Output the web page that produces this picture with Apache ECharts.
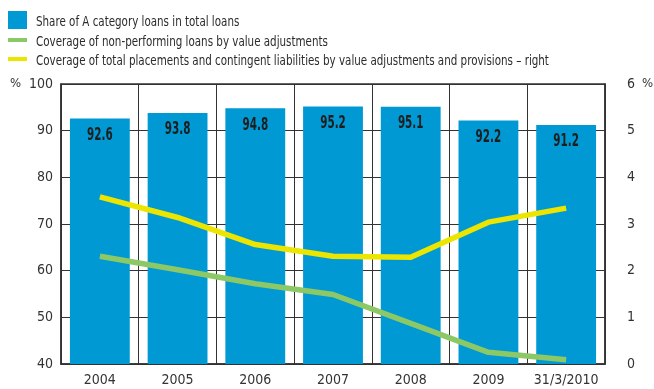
<!DOCTYPE html>
<html>
<head>
<meta charset="utf-8">
<script src="https://cdn.jsdelivr.net/npm/echarts@6/dist/echarts.min.js"></script>
<style>
  html, body { margin: 0; padding: 0; background: #fff; }
  #chart { width: 654px; height: 389px; }
</style>
</head>
<body>
<div id="chart"></div>
<script>
// Category labels (x axis)
const categories = ['2004', '2005', '2006', '2007', '2008', '2009', '31/3/2010'];

// Share of A category loans in total loans (%) – left axis
const shareA = [92.6, 93.8, 94.8, 95.2, 95.1, 92.2, 91.2];

// Coverage of non-performing loans by value adjustments (%) – left axis
const coverageNPL = [63.1, 60.2, 57.2, 54.9, 48.7, 42.5, 40.9];

// Coverage of total placements and contingent liabilities (%) – right axis
const coverageTotal = [3.58, 3.14, 2.56, 2.31, 2.29, 3.04, 3.34];

// Series names
const nameBar = 'Share of A category loans in total loans';
const nameGreen = 'Coverage of non-performing loans by value adjustments';
const nameYellow = 'Coverage of total placements and contingent liabilities by value adjustments and provisions \u2013 right';

const FONT = '"Liberation Sans Narrow", "DejaVu Sans Condensed", "Liberation Sans", sans-serif';
const BLUE = '#0099d4';
const GREEN = '#8cc865';
const YELLOW = '#ece500';
const INK = '#333333';

const chart = echarts.init(document.getElementById('chart'), null, { renderer: 'canvas' });

// Legend: swatch + narrow text, one row per series (absolute x/y placement)
function legendRow(y, swatch, color, text) {
  return {
    type: 'group', x: 8, y: y,
    children: [
      { type: 'rect', shape: swatch, style: { fill: color } },
      {
        type: 'text', x: 28, y: 11, scaleX: 0.82,
        style: { text: text, font: '14px ' + FONT, fill: '#2b2b2b', verticalAlign: 'middle' }
      }
    ]
  };
}

chart.setOption({
  animation: false,
  backgroundColor: '#ffffff',
  textStyle: { fontFamily: FONT },
  grid: {
    left: 61, right: 49, top: 84, bottom: 25,
    show: true, borderColor: INK, borderWidth: 1.5, backgroundColor: 'transparent'
  },
  graphic: [
    legendRow(11, { x: 0, y: 0, width: 19, height: 18 }, BLUE, nameBar),
    legendRow(31, { x: 0, y: 7, width: 19, height: 4 }, GREEN, nameGreen),
    legendRow(50, { x: 0, y: 7, width: 19, height: 4 }, YELLOW, nameYellow),
    { type: 'text', left: 10, top: 77, style: { text: '%', font: '13px ' + FONT, fill: INK } },
    { type: 'text', left: 642, top: 77, style: { text: '%', font: '13px ' + FONT, fill: INK } }
  ],
  xAxis: {
    type: 'category',
    data: categories,
    boundaryGap: true,
    axisLine: { show: true, lineStyle: { color: INK, width: 1.5 } },
    axisTick: { show: false },
    axisLabel: { interval: 0, color: INK, fontSize: 14, fontFamily: FONT, margin: 9 },
    splitLine: { show: true, interval: 0, lineStyle: { color: INK, width: 1 } }
  },
  yAxis: [
    {
      type: 'value', min: 40, max: 100, interval: 10,
      axisLine: { show: true, lineStyle: { color: INK, width: 1.5 } },
      axisTick: { show: false },
      axisLabel: { color: INK, fontSize: 14, fontFamily: FONT, margin: 8 },
      splitLine: { show: true, lineStyle: { color: INK, width: 1 } }
    },
    {
      type: 'value', min: 0, max: 6, interval: 1,
      axisLine: { show: true, lineStyle: { color: INK, width: 1.5 } },
      axisTick: { show: false },
      axisLabel: { color: INK, fontSize: 14, fontFamily: FONT, margin: 22 },
      splitLine: { show: false }
    }
  ],
  series: [
    {
      name: nameBar,
      type: 'bar',
      data: shareA,
      barCategoryGap: '23%',
      itemStyle: { color: BLUE },
      z: 2
    },
    {
      // value labels printed inside the top of each bar
      name: 'barValues',
      type: 'custom',
      data: shareA.map((v, i) => [i, v]),
      z: 4,
      silent: true,
      renderItem: function (params, api) {
        const p = api.coord([api.value(0), api.value(1)]);
        return {
          type: 'text', x: p[0], y: p[1] + 17, scaleX: 0.68,
          style: {
            text: api.value(1).toFixed(1),
            font: 'bold 17px ' + FONT, fill: '#1e1e1e',
            align: 'center', verticalAlign: 'middle'
          }
        };
      }
    },
    {
      name: nameGreen,
      type: 'line',
      data: coverageNPL,
      yAxisIndex: 0,
      showSymbol: false,
      symbol: 'none',
      lineStyle: { color: GREEN, width: 5.5, cap: 'butt', join: 'round' },
      itemStyle: { color: GREEN },
      z: 3
    },
    {
      name: nameYellow,
      type: 'line',
      data: coverageTotal,
      yAxisIndex: 1,
      showSymbol: false,
      symbol: 'none',
      lineStyle: { color: YELLOW, width: 5.5, cap: 'butt', join: 'round' },
      itemStyle: { color: YELLOW },
      z: 3
    }
  ]
});
</script>
</body>
</html>
